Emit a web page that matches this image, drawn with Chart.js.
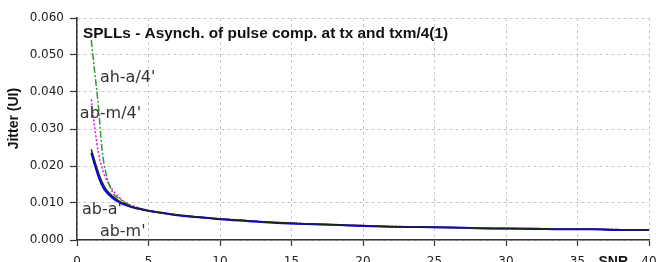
<!DOCTYPE html>
<html>
<head>
<meta charset="utf-8">
<script src="https://cdn.jsdelivr.net/npm/chart.js@4/dist/chart.umd.min.js"></script>
<style>
  html, body { margin: 0; padding: 0; background: #fff; overflow: hidden; }
  #wrap { width: 656px; height: 262px; overflow: hidden; }
</style>
</head>
<body>
<div id="wrap"><canvas id="jitterChart" width="656" height="280"></canvas></div>
<script>
// SNR sample points (shared by all four series)
const snr = [1, 1.25, 1.5, 1.75, 2, 2.5, 3, 3.5, 4, 5, 6, 7, 8, 9, 10, 12, 14, 16, 18, 20, 22, 24, 26, 28, 30, 32, 34, 36, 38, 40];

// Jitter (UI) per series
const abA   = [0.0245, 0.0212, 0.0182, 0.0157, 0.0139, 0.0118, 0.0104, 0.0095, 0.0088, 0.0079, 0.0073, 0.0068, 0.0064, 0.0060, 0.0057, 0.0052, 0.0047, 0.0044, 0.0041, 0.0039, 0.0036, 0.0035, 0.0034, 0.0032, 0.0031, 0.0031, 0.0029, 0.0029, 0.0028, 0.0027];
const abM   = [0.0236, 0.0202, 0.0172, 0.0148, 0.0132, 0.0113, 0.0101, 0.0093, 0.0087, 0.0079, 0.0073, 0.0067, 0.0063, 0.0060, 0.0056, 0.0051, 0.0046, 0.0043, 0.0041, 0.0038, 0.0036, 0.0035, 0.0034, 0.0032, 0.0031, 0.0030, 0.0029, 0.0029, 0.0027, 0.0027];
const ahA4  = [0.0540, 0.0450, 0.0360, 0.0245, 0.0185, 0.0128, 0.0111, 0.0098, 0.0090, 0.0079, 0.0072, 0.0067, 0.0063, 0.0059, 0.0057, 0.0052, 0.0047, 0.0044, 0.0041, 0.0038, 0.0036, 0.0035, 0.0034, 0.0032, 0.0031, 0.0030, 0.0029, 0.0029, 0.0028, 0.0026];
const abM4  = [0.0380, 0.0300, 0.0235, 0.0195, 0.0168, 0.0135, 0.0113, 0.0099, 0.0091, 0.0080, 0.0074, 0.0068, 0.0064, 0.0060, 0.0058, 0.0052, 0.0048, 0.0044, 0.0041, 0.0039, 0.0037, 0.0035, 0.0034, 0.0032, 0.0031, 0.0031, 0.0029, 0.0029, 0.0028, 0.0027];

// Axis ranges
const xTicks = { min: 0, max: 40, step: 5 };
const yTicks = { min: 0, max: 0.06, step: 0.01 };

const chartTitle = 'SPLLs - Asynch. of pulse comp. at tx and txm/4(1)';

// In-plot text labels (data coordinates)
const notes = [
    { text: chartTitle, x: 0.42, y: 0.0558, bold: true },
    { text: "ah-a/4'", x: 1.6, y: 0.0438 },
    { text: "ab-m/4'", x: 0.2, y: 0.0340 },
    { text: "ab-a'", x: 0.35, y: 0.0081 },
    { text: "ab-m'", x: 1.6, y: 0.0022 }
];

function pts(ys) {
    return snr.map((x, i) => ({ x: x, y: ys[i] }));
}

const notesPlugin = {
    id: 'notes',
    afterDatasetsDraw(chart) {
        const ctx = chart.ctx;
        const xs = chart.scales.x, ys = chart.scales.y;
        ctx.save();
        ctx.textBaseline = 'middle';
        ctx.textAlign = 'left';
        notes.forEach(n => {
            if (n.bold) {
                ctx.font = 'bold 15.4px "Liberation Sans", Arial, sans-serif';
                ctx.fillStyle = '#111';
            } else {
                ctx.font = '16px "DejaVu Sans", sans-serif';
                ctx.fillStyle = '#333';
            }
            ctx.fillText(n.text, xs.getPixelForValue(n.x), ys.getPixelForValue(n.y));
        });
        // axis name next to the last x tick
        ctx.font = 'bold 14px "Liberation Sans", Arial, sans-serif';
        ctx.fillStyle = '#111';
        ctx.textAlign = 'right';
        ctx.textBaseline = 'top';
        ctx.fillText('SNR', xs.getPixelForValue(40) - 21, chart.chartArea.bottom + 15);
        // y axis title
        ctx.translate(14, ys.getPixelForValue(0.0328));
        ctx.rotate(-Math.PI / 2);
        ctx.textAlign = 'center';
        ctx.textBaseline = 'middle';
        ctx.fillText('Jitter (UI)', 0, 0);
        ctx.restore();
    }
};

const ctx = document.getElementById('jitterChart').getContext('2d');
new Chart(ctx, {
    type: 'line',
    data: {
        datasets: [
            { label: "ab-a'", data: pts(abA), borderColor: '#222222', borderWidth: 1.5 },
            { label: "ab-m'", data: pts(abM), borderColor: '#0000ff', borderWidth: 2 },
            { label: "ah-a/4'", data: pts(ahA4), borderColor: '#2f9a2f', borderWidth: 1.5, borderDash: [7, 2, 2, 2] },
            { label: "ab-m/4'", data: pts(abM4), borderColor: '#ff00ff', borderWidth: 1.5, borderDash: [2, 2] }
        ]
    },
    options: {
        responsive: false,
        animation: false,
        events: [],
        elements: { point: { radius: 0 }, line: { cubicInterpolationMode: 'monotone', fill: false } },
        layout: { padding: { top: 18, right: 7, left: 0, bottom: 0 } },
        plugins: {
            legend: { display: false },
            tooltip: { enabled: false }
        },
        scales: {
            x: {
                type: 'linear',
                min: xTicks.min,
                max: xTicks.max,
                afterFit(scale) {
                    scale.height = 40;
                    scale.paddingLeft = 0;
                    scale.paddingRight = 0;
                },
                border: { display: true, color: '#333', width: 1.5, dash: [3, 3] },
                grid: { color: '#c8c8c8', lineWidth: 1, tickColor: '#333', tickLength: 6, tickBorderDash: [], tickWidth: 1.2 },
                ticks: {
                    stepSize: xTicks.step,
                    padding: 9,
                    color: '#222',
                    maxRotation: 0,
                    font: { family: '"DejaVu Sans", sans-serif', size: 12 }
                }
            },
            y: {
                min: yTicks.min,
                max: yTicks.max,
                afterFit(scale) { scale.width = 77; },
                border: { display: true, color: '#333', width: 1.5, dash: [3, 3] },
                grid: { color: '#c8c8c8', lineWidth: 1, tickColor: '#333', tickLength: 7, tickBorderDash: [], tickWidth: 1.2 },
                ticks: {
                    stepSize: yTicks.step,
                    padding: 6,
                    color: '#222',
                    callback: v => v.toFixed(3),
                    font: { family: '"DejaVu Sans", sans-serif', size: 12 }
                }
            }
        }
    },
    plugins: [notesPlugin]
});
</script>
</body>
</html>
